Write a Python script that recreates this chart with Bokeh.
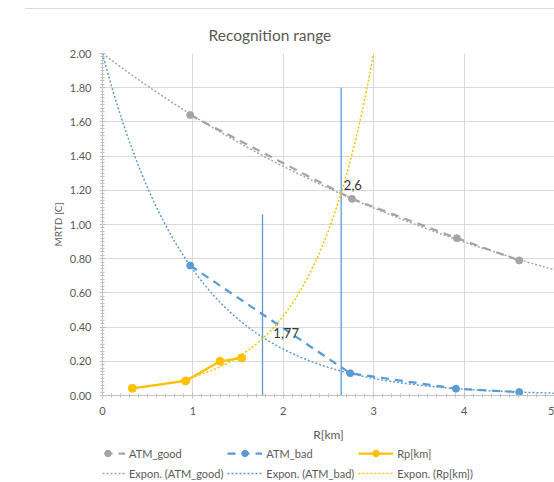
import numpy as np
from bokeh.plotting import figure
from bokeh.layouts import column
from bokeh.models import (SingleIntervalTicker, NumeralTickFormatter, Legend, LegendItem,
                          Range1d, Label, Div)
from bokeh.embed import file_html
from bokeh.resources import INLINE

# ---------------- data ----------------
title_text = "Recognition range"
x_label = "R[km]"
y_label = "MRTD [C]"

good_R = [0.97, 2.76, 3.92, 4.61]
good_mrtd = [1.64, 1.15, 0.92, 0.79]

bad_R = [0.97, 2.74, 3.91, 4.61]
bad_mrtd = [0.76, 0.13, 0.04, 0.02]

rp_R = [0.33, 0.92, 1.30, 1.54]
rp_mrtd = [0.042, 0.085, 0.20, 0.22]

trend_intercept = 2.0          # exponential trendlines of ATM series start at MRTD = 2
rp_forecast_to = 3.1           # Rp trendline forecast forward

vline_x = [1.77, 2.64]
vline_top = [1.06, 1.80]

note_text = ["1,77", "2,6"]
note_x = [1.89, 2.67]
note_y = [0.365, 1.229]

legend_labels = ["ATM_good", "ATM_bad", "Rp[km]",
                 "Expon. (ATM_good)", "Expon. (ATM_bad)", "Expon. (Rp[km])"]

# ---------------- styles ----------------
GRAY = "#A5A5A5"
BLUE = "#5B9BD5"
GOLD = "#FFC000"
TXT = "#595959"
FONT = "Lato"


def exp_fit_fixed(x, y, a):
    x = np.asarray(x, float)
    ly = np.log(np.asarray(y, float) / a)
    b = (x * ly).sum() / (x * x).sum()
    return a, b


def exp_fit(x, y):
    b, la = np.polyfit(np.asarray(x, float), np.log(np.asarray(y, float)), 1)
    return np.exp(la), b


xs = np.linspace(0, 5, 300)
ag, bg = exp_fit_fixed(good_R, good_mrtd, trend_intercept)
ab, bb = exp_fit_fixed(bad_R, bad_mrtd, trend_intercept)
ar, br = exp_fit(rp_R, rp_mrtd)
xr = np.linspace(rp_R[0], rp_forecast_to, 300)


def draw_series(fig):
    r = {}
    r["g_line"] = fig.line(good_R, good_mrtd, line_color=GRAY, line_width=2.25, line_dash="8 6")
    r["g_mark"] = fig.scatter(good_R, good_mrtd, size=7, color=GRAY)
    r["b_line"] = fig.line(bad_R, bad_mrtd, line_color=BLUE, line_width=2.25, line_dash="8 6")
    r["b_mark"] = fig.scatter(bad_R, bad_mrtd, size=7, color=BLUE)
    r["r_line"] = fig.line(rp_R, rp_mrtd, line_color=GOLD, line_width=2.25)
    r["r_mark"] = fig.scatter(rp_R, rp_mrtd, size=8, color=GOLD)
    r["tg"] = fig.line(xs, ag * np.exp(bg * xs), line_color=GRAY, line_width=1.5, line_dash="2 2")
    r["tb"] = fig.line(xs, ab * np.exp(bb * xs), line_color=BLUE, line_width=1.5, line_dash="2 2")
    r["tr"] = fig.line(xr, ar * np.exp(br * xr), line_color=GOLD, line_width=1.5, line_dash="2 2")
    return r


# thin chart-area border at the top
top_rule = Div(text="", width=529, height=1, margin=(8, 0, 0, 25),
               styles={"background-color": "#D9D9D9"})

p = figure(width=554, height=435, output_backend="svg", toolbar_location=None,
           x_range=Range1d(0, 5), y_range=Range1d(0, 2.0),
           min_border_left=102, min_border_right=0, min_border_top=44, min_border_bottom=46)
p.outline_line_color = None
p.background_fill_color = "white"
p.border_fill_color = "white"

p.title.text = title_text
p.title.text_font = FONT
p.title.text_font_size = "15.5px"
p.title.text_font_style = "normal"
p.title.text_color = TXT
p.title.align = "left"
p.title.offset = 106
p.title.standoff = 19

# axes
p.xaxis.ticker = SingleIntervalTicker(interval=1, num_minor_ticks=10)
p.yaxis.ticker = SingleIntervalTicker(interval=0.2, num_minor_ticks=10)
p.yaxis.formatter = NumeralTickFormatter(format="0.00")
for ax in (p.xaxis, p.yaxis):
    ax.axis_line_color = "#BFBFBF"
    ax.major_tick_line_color = "#BFBFBF"
    ax.minor_tick_line_color = "#BFBFBF"
    ax.major_tick_in = 3
    ax.major_tick_out = 3
    ax.minor_tick_in = 2
    ax.minor_tick_out = 2
    ax.major_label_text_font = FONT
    ax.major_label_text_font_size = "11px"
    ax.major_label_text_color = TXT
    ax.axis_label_text_font = FONT
    ax.axis_label_text_font_style = "normal"
    ax.axis_label_text_color = TXT
p.xaxis.axis_label = x_label
p.yaxis.axis_label = y_label
p.xaxis.axis_label_text_font_size = "12px"
p.yaxis.axis_label_text_font_size = "10px"
p.xaxis.major_label_standoff = 8
p.yaxis.major_label_standoff = 8
p.xaxis.axis_label_standoff = 9
p.yaxis.axis_label_standoff = 3

p.xgrid.grid_line_color = "#D9D9D9"
p.ygrid.grid_line_color = "#D9D9D9"

# vertical marker lines
p.segment(x0=vline_x, y0=[0] * len(vline_x), x1=vline_x, y1=vline_top,
          line_color=BLUE, line_width=1.3)

draw_series(p)

# notes
for t, x, y in zip(note_text, note_x, note_y):
    p.add_layout(Label(x=x, y=y, text=t, text_font=FONT, text_font_size="13px",
                       text_color="#333333", text_baseline="middle", text_align="left"))

# ---------------- legend strip below the chart ----------------
lf = figure(width=554, height=38, output_backend="svg", toolbar_location=None,
            x_range=Range1d(100, 101), y_range=Range1d(100, 101),
            x_axis_type=None, y_axis_type=None,
            min_border_left=0, min_border_right=0, min_border_top=0, min_border_bottom=0)
lf.outline_line_color = None
lf.xgrid.visible = False
lf.ygrid.visible = False
lr = draw_series(lf)
groups = [["g_line", "g_mark"], ["b_line", "b_mark"], ["r_line", "r_mark"],
          ["tg"], ["tb"], ["tr"]]
legend = Legend(items=[LegendItem(label=lab, renderers=[lr[k] for k in g])
                       for lab, g in zip(legend_labels, groups)],
                location=(-12, 1), orientation="horizontal", ncols=3)
legend.padding = 0
legend.margin = 0
legend.border_line_color = None
legend.background_fill_alpha = 0
legend.glyph_width = 35
legend.glyph_height = 16
legend.label_height = 16
legend.label_standoff = 4
legend.spacing = 4
legend.label_text_font = FONT
legend.label_text_font_size = "11px"
legend.label_text_color = TXT
lf.add_layout(legend, "center")

layout = column(top_rule, p, lf, spacing=0)
open("out.html", "w").write(file_html(layout, INLINE))
